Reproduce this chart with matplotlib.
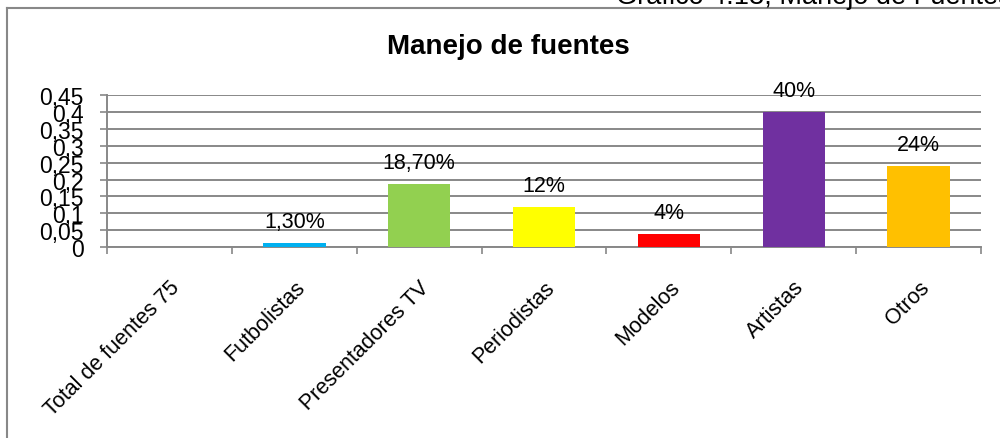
import matplotlib
matplotlib.use("Agg")
import matplotlib.pyplot as plt
from matplotlib.lines import Line2D
import numpy as np

plt.rcParams['font.family'] = ['Liberation Sans', 'DejaVu Sans']

categories = ["Total de fuentes 75", "Futbolistas", "Presentadores TV", "Periodistas",
              "Modelos", "Artistas", "Otros"]
values = [0, 0.013, 0.187, 0.12, 0.04, 0.40, 0.24]
value_labels = ["", "1,30%", "18,70%", "12%", "4%", "40%", "24%"]
colors = ["#4F81BD", "#00B0F0", "#92D050", "#FFFF00", "#FF0000", "#7030A0", "#FFC000"]
yticks = [0, 0.05, 0.1, 0.15, 0.2, 0.25, 0.3, 0.35, 0.4, 0.45]
ytick_labels = ["0", "0,05", "0,1", "0,15", "0,2", "0,25", "0,3", "0,35", "0,4", "0,45"]

grid_c = "#888888"

fig = plt.figure(figsize=(10, 4.39), dpi=100)
ax = fig.add_axes([0.107, 0.435, 0.874, 0.346])

x = np.arange(len(categories))
bars = ax.bar(x, values, width=0.5, color=colors, zorder=3)

for b, lab in zip(bars, value_labels):
    if lab:
        ax.annotate(lab, (b.get_x() + b.get_width() / 2, b.get_height()),
                    xytext=(0, 11.5), textcoords="offset points",
                    ha="center", va="baseline", fontsize=15.5)

ax.set_ylim(0, 0.45)
ax.set_xlim(-0.5, len(categories) - 0.5)
ax.set_yticks(yticks)
ax.set_yticklabels(ytick_labels, fontsize=16.5)
ax.yaxis.grid(True, color=grid_c, linewidth=1.4, zorder=0)
ax.tick_params(axis="y", length=5, width=1.2, color=grid_c, pad=12)

ax.set_xticks(np.arange(-0.5, len(categories), 1))
ax.set_xticklabels([])
ax.tick_params(axis="x", which="major", length=5, width=1.2, color=grid_c)
ax.set_xticks(x, minor=True)
ax.set_xticklabels(categories, minor=True, rotation=45, ha="right",
                   rotation_mode="anchor", fontsize=15.5)
ax.tick_params(axis="x", which="minor", length=0, pad=21)

for s in ["top", "right"]:
    ax.spines[s].set_visible(False)
for s in ["left", "bottom"]:
    ax.spines[s].set_color(grid_c)
    ax.spines[s].set_linewidth(1.4)

fig.text(0.508, 0.893, "Manejo de fuentes", ha="center", va="center",
         fontsize=20, fontweight="bold")

# outer frame and page header
fig.add_artist(Line2D([0.007, 1.0], [0.979, 0.979], color=grid_c, linewidth=1.5))
fig.add_artist(Line2D([0.007, 0.007], [0.0, 0.979], color=grid_c, linewidth=1.5))
fig.text(0.616, 0.992, "Gráfico 4.13, Manejo de Fuentes", ha="left", va="baseline",
         fontsize=19.5)

fig.savefig("out.png", dpi=100)
